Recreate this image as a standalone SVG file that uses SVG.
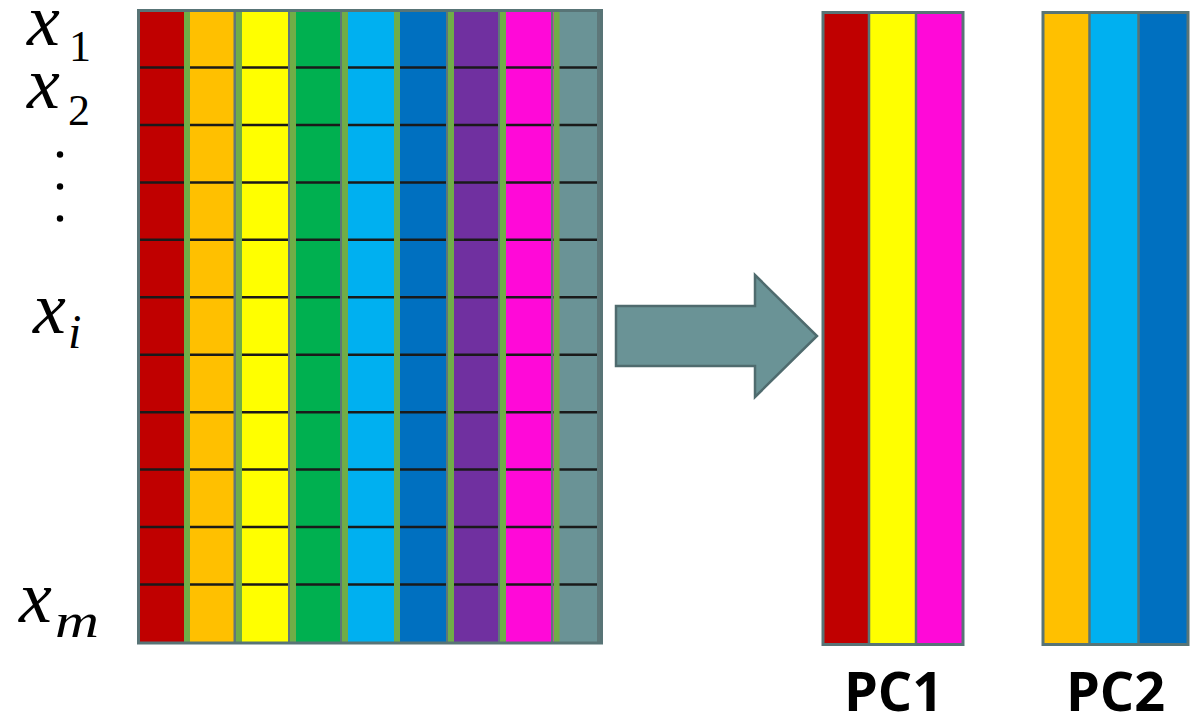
<svg xmlns="http://www.w3.org/2000/svg" width="1199" height="721" viewBox="0 0 1199 721">
<style>
.lbl{font-family:"Liberation Serif",serif;font-style:italic;fill:#000}
.sub{font-family:"Liberation Serif",serif;font-style:italic;fill:#000}
.num{font-family:"Liberation Serif",serif;fill:#000}
.pc{font-family:"Open Sans","Liberation Sans",sans-serif;font-weight:bold;font-size:54px;fill:#000;text-anchor:middle}
.row{stroke:#1a1a1a;stroke-width:2.5}
.sep{fill:#70AD47}
.frame{fill:none;stroke:#587476;stroke-width:3}
</style>
<rect width="1199" height="721" fill="#fff"/>
<g id="matrix">
  <rect x="140" y="12" width="46" height="630" fill="#C00000"/>
  <rect x="186" y="12" width="52" height="630" fill="#FFC000"/>
  <rect x="238" y="12" width="54" height="630" fill="#FFFF00"/>
  <rect x="292" y="12" width="52" height="630" fill="#00B050"/>
  <rect x="344" y="12" width="52" height="630" fill="#00B0F0"/>
  <rect x="396" y="12" width="54" height="630" fill="#0070C0"/>
  <rect x="450" y="12" width="52" height="630" fill="#7030A0"/>
  <rect x="502" y="12" width="54" height="630" fill="#FF09D8"/>
  <rect x="556" y="12" width="44" height="630" fill="#6A9396"/>
  <g class="row">
    <line x1="140" y1="67.5" x2="600" y2="67.5"/>
    <line x1="140" y1="125" x2="600" y2="125"/>
    <line x1="140" y1="182.4" x2="600" y2="182.4"/>
    <line x1="140" y1="239.8" x2="600" y2="239.8"/>
    <line x1="140" y1="297.3" x2="600" y2="297.3"/>
    <line x1="140" y1="354.7" x2="600" y2="354.7"/>
    <line x1="140" y1="412.2" x2="600" y2="412.2"/>
    <line x1="140" y1="469.6" x2="600" y2="469.6"/>
    <line x1="140" y1="527" x2="600" y2="527"/>
    <line x1="140" y1="584.5" x2="600" y2="584.5"/>
  </g>
  <g fill="#5E7779">
    <rect x="233.5" y="12" width="2.5" height="630"/>
    <rect x="288" y="12" width="2" height="630"/>
    <rect x="340" y="12" width="2" height="630"/>
    <rect x="446" y="12" width="2" height="630"/>
    <rect x="498" y="12" width="2" height="630"/>
    <rect x="551" y="12" width="2" height="630"/>
    <rect x="597" y="12" width="3" height="630"/>
  </g>
  <g class="sep">
    <rect x="184" y="12" width="6" height="630"/>
    <rect x="236" y="12" width="6" height="630"/>
    <rect x="290" y="12" width="6" height="630"/>
    <rect x="342" y="12" width="6" height="630"/>
    <rect x="394" y="12" width="6" height="630"/>
    <rect x="448" y="12" width="6" height="630"/>
    <rect x="500" y="12" width="6" height="630"/>
    <rect x="553.5" y="12" width="6" height="630"/>
  </g>
  <rect class="frame" x="138.5" y="10.5" width="463" height="632.5"/>
</g>
<g id="labels">
  <text class="lbl" x="27" y="45" font-size="74">x</text>
  <text class="num" x="69" y="61" font-size="44">1</text>
  <text class="lbl" x="27" y="108" font-size="74">x</text>
  <text class="num" x="68" y="125" font-size="44">2</text>
  <g fill="#000">
    <circle cx="60" cy="154.5" r="3.2"/>
    <circle cx="60" cy="186.5" r="3.2"/>
    <circle cx="60" cy="218.5" r="3.2"/>
  </g>
  <text class="lbl" x="33" y="333" font-size="74">x</text>
  <text class="sub" x="68" y="348" font-size="48">i</text>
  <text class="lbl" x="19" y="622" font-size="74">x</text>
  <text class="sub" x="55" y="637" font-size="48" textLength="44" lengthAdjust="spacingAndGlyphs">m</text>
</g>
<g id="arrow">
  <path d="M616,306 L755,306 L755,275 L817,336 L755,397 L755,366 L616,366 Z" fill="#6A9396" stroke="#4F6B6E" stroke-width="2.5" stroke-linejoin="miter"/>
</g>
<g id="pc1">
  <rect x="823" y="12" width="47" height="632" fill="#C00000"/>
  <rect x="870" y="12" width="47" height="632" fill="#FFFF00"/>
  <rect x="917" y="12" width="46" height="632" fill="#FF09D8"/>
  <g stroke="#587476" stroke-width="2.5">
    <line x1="869" y1="12" x2="869" y2="644"/>
    <line x1="916" y1="12" x2="916" y2="644"/>
  </g>
  <rect class="frame" x="823" y="12.5" width="140" height="632"/>
  <text class="pc" x="893.5" y="711">PC1</text>
</g>
<g id="pc2">
  <rect x="1043" y="12" width="47" height="632" fill="#FFC000"/>
  <rect x="1090" y="12" width="48" height="632" fill="#00B0F0"/>
  <rect x="1138" y="12" width="50" height="632" fill="#0070C0"/>
  <g stroke="#587476" stroke-width="2.5">
    <line x1="1089.5" y1="12" x2="1089.5" y2="644"/>
    <line x1="1138.5" y1="12" x2="1138.5" y2="644"/>
  </g>
  <rect class="frame" x="1043" y="12.5" width="145" height="632"/>
  <text class="pc" x="1115.5" y="711">PC2</text>
</g>
</svg>
